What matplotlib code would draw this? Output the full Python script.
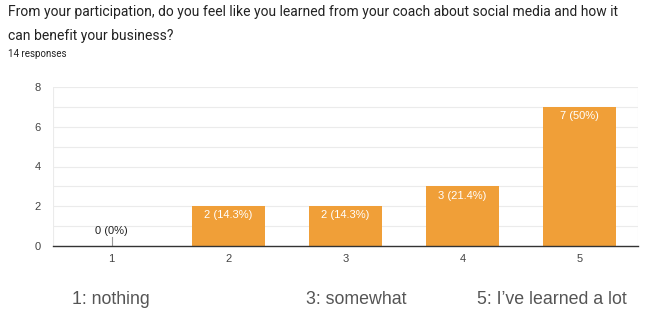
import matplotlib
matplotlib.use("Agg")
import matplotlib.pyplot as plt

categories = ["1", "2", "3", "4", "5"]
counts = [0, 2, 2, 3, 7]
labels = ["0 (0%)", "2 (14.3%)", "2 (14.3%)", "3 (21.4%)", "7 (50%)"]
title = "From your participation, do you feel like you learned from your coach about social media and how it\ncan benefit your business?"
subtitle = "14 responses"
footer = ["1: nothing", "3: somewhat", "5: I\u2019ve learned a lot"]

plt.rcParams['font.family'] = ['Liberation Sans', 'DejaVu Sans']
W, H = 650, 321
fig = plt.figure(figsize=(W/100, H/100), dpi=100)
ax = fig.add_axes([53/W, 1-246/H, (638-53)/W, (246-87)/H])

bar_color = "#F09F38"
xs = list(range(1, len(categories)+1))
ax.bar(xs, counts, width=0.62, color=bar_color, zorder=2)
ax.set_xlim(0.5, 5.5)
ax.set_ylim(0, 8)
ax.set_yticks([0, 2, 4, 6, 8])
ax.set_yticks([1, 3, 5, 7], minor=True)
ax.set_xticks(xs)
ax.set_xticklabels(categories)
ax.grid(axis='y', which='both', color='#EBEBEB', linewidth=0.8, zorder=0)
ax.plot([0.5, 0.5], [0, 8], color='#EBEBEB', linewidth=0.8, zorder=0)
ax.plot([5.5, 5.5], [0, 8], color='#EBEBEB', linewidth=0.8, zorder=0)
for s in ['top', 'right', 'left']:
    ax.spines[s].set_visible(False)
ax.spines['bottom'].set_color('#333333')
ax.spines['bottom'].set_linewidth(1.0)
ax.spines['bottom'].set_zorder(3)
ax.tick_params(axis='both', which='both', length=0, labelsize=8, colors='#444444')
ax.tick_params(axis='x', pad=6)
ax.tick_params(axis='y', pad=9)

for x, c, lab in zip(xs, counts, labels):
    if c == 0:
        ax.plot([x, x], [0, 0.45], color='#999999', linewidth=0.8, zorder=3)
        ax.annotate(lab, (x, 0.45), xytext=(0, 0.5), textcoords='offset points',
                    ha='center', va='bottom', fontsize=8, color='#222222')
    else:
        ax.annotate(lab, (x, c), xytext=(0, -3), textcoords='offset points',
                    ha='center', va='top', fontsize=8, color='white')

fig.text(8/W, 1-5/H, title, ha='left', va='top', fontsize=10, color='#222222',
         linespacing=1.9, family=['Roboto', 'DejaVu Sans'])
fig.text(8/W, 1-54/H, subtitle, ha='left', va='center', fontsize=7,
         color='#222222', family=['Roboto', 'DejaVu Sans'])

fx = [72, 306, 477]
for x, t in zip(fx, footer):
    fig.text(x/W, 1-299/H, t, ha='left', va='center', fontsize=12.8, color='#555555')

fig.savefig("out.png", dpi=100)
